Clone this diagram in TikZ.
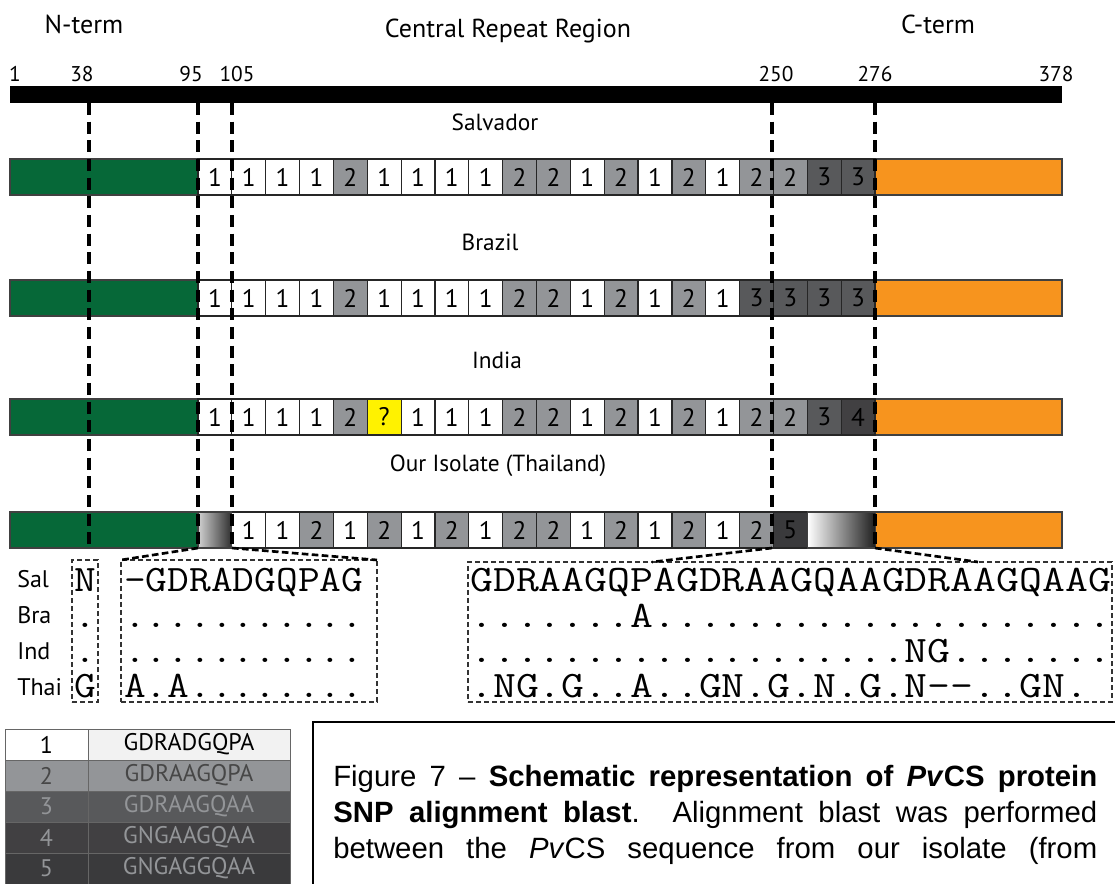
\documentclass[tikz,border=0pt]{standalone}
\usepackage{fontspec}
\usepackage{graphicx}
\setmainfont{PT Sans}
\newfontfamily\capfont{Liberation Sans}
\definecolor{cgreen}{HTML}{066838}
\definecolor{corange}{HTML}{F7941E}
\definecolor{cgrayA}{HTML}{939598}
\definecolor{cgrayB}{HTML}{58595B}
\definecolor{cgrayC}{HTML}{414042}
\definecolor{cgrayD}{HTML}{3A3A3C}
\definecolor{cyellow}{HTML}{FFF200}
\newcommand\alnR[1]{\scalebox{1.19}[1]{\fontsize{28}{30}\selectfont\ttfamily #1}}
\newcommand\alnL[1]{\scalebox{1.13}[1]{\fontsize{28}{30}\selectfont\ttfamily #1}}
\newcommand\dd{-\kern0pt-}
\newcommand\cellrow[4]{\foreach \st/\tx [count=\i from #3] in {#4}{\node[cell,\st] (#1\i) at ({198+\i*33.85},#2) {\tx};}}
\begin{document}
\begin{tikzpicture}[x=0.75pt,y=-0.75pt]
\tikzset{
 cell/.style={draw=black!85, line width=0.9pt, anchor=north west, minimum width=25.39pt, minimum height=27pt, inner sep=0pt, outer sep=0pt, font=\fontsize{19}{19}\selectfont},
 c1/.style={fill=white}, c2/.style={fill=cgrayA}, c3/.style={fill=cgrayB},
 c4/.style={fill=cgrayC}, c5/.style={fill=cgrayD}, cq/.style={fill=cyellow},
 endbox/.style={draw=black!75, line width=0.9pt, anchor=north west, minimum height=27pt, inner sep=0pt, outer sep=0pt},
 vdash/.style={line width=2.7pt, dash pattern=on 9pt off 5pt},
 zoomline/.style={line width=2pt, dash pattern=on 5pt off 2.5pt},
 albox/.style={draw=black!80, line width=1pt, dash pattern=on 4pt off 2pt, anchor=north west, inner sep=0pt, outer sep=0pt},
 ticklab/.style={font=\fontsize{16}{16}\selectfont},
 title/.style={font=\fontsize{19.5}{19.5}\selectfont},
 rowtitle/.style={font=\fontsize{17.5}{17.5}\selectfont},
 seqlab/.style={font=\fontsize{18}{18}\selectfont, anchor=base west, inner sep=0pt},
 alnt/.style={anchor=base west, inner sep=0pt},
 legcell/.style={anchor=north west, minimum height=23.25pt, inner sep=0pt, outer sep=0pt, draw=black!60, line width=0.7pt, font=\fontsize{18}{18}\selectfont},
 capline/.style={anchor=base west, inner sep=0pt, font=\capfont\fontsize{22}{26}\selectfont},
}
\useasboundingbox (0,0) rectangle (1115,884);

% titles
\node[title] (nterm) at (84,24) {N-term};
\node[title] (central) at (508,31) {Central Repeat Region};
\node[title] (cterm) at (938,24) {C-term};

% axis bar and tick labels
\node[fill=black, anchor=north west, minimum width=789pt, minimum height=12.75pt, inner sep=0pt, outer sep=0pt] (axis) at (10,86) {};
\foreach \lb/\xx in {1/15, 38/82, 95/191, 105/237, 250/776, 276/875, 378/1056}
  \node[ticklab] (lab\lb) at (\xx,74) {\lb};

% row titles
\node[rowtitle] (tsal) at (495,122) {Salvador};
\node[rowtitle] (tbra) at (490,242) {Brazil};
\node[rowtitle] (tind) at (497,360) {India};
\node[rowtitle] (ttha) at (498,466) {Our Isolate (Thailand)};

% terminal blocks
\foreach \p/\yy in {s/159, b/280, i/399, t/512}{
  \node[endbox, fill=cgreen, minimum width=141pt] (\p-green) at (10,\yy) {};
  \node[endbox, fill=corange, minimum width=140.25pt] (\p-orange) at (875,\yy) {};
}

% repeat cells
\cellrow{s-}{159}{0}{c1/1,c1/1,c1/1,c1/1,c2/2,c1/1,c1/1,c1/1,c1/1,c2/2,c2/2,c1/1,c2/2,c1/1,c2/2,c1/1,c2/2,c2/2,c3/3,c3/3}
\cellrow{b-}{280}{0}{c1/1,c1/1,c1/1,c1/1,c2/2,c1/1,c1/1,c1/1,c1/1,c2/2,c2/2,c1/1,c2/2,c1/1,c2/2,c1/1,c3/3,c3/3,c3/3,c3/3}
\cellrow{i-}{399}{0}{c1/1,c1/1,c1/1,c1/1,c2/2,cq/?,c1/1,c1/1,c1/1,c2/2,c2/2,c1/1,c2/2,c1/1,c2/2,c1/1,c2/2,c2/2,c3/3,c4/4}
\cellrow{t-}{512}{1}{c1/1,c1/1,c2/2,c1/1,c2/2,c1/1,c2/2,c1/1,c2/2,c2/2,c1/1,c2/2,c1/1,c2/2,c1/1,c2/2,c5/5}
\node[endbox, minimum width=25.39pt, left color=black!18, right color=black!82] (t-grad1) at (198,512) {};
\node[endbox, minimum width=50.78pt, left color=white, right color=black!88] (t-grad2) at (807.45,512) {};

% vertical dashed guide lines
\foreach \n/\xx in {38/89, 95/198, 105/232, 250/772, 276/875}{
  \coordinate (top\n) at (\xx,103);
  \coordinate (bot\n) at (\xx,548);
  \draw[vdash] (top\n) -- (bot\n);
}

% alignment boxes
\node[albox, minimum width=19.5pt, minimum height=106.5pt] (nbox) at (72,560) {};
\node[albox, minimum width=192pt, minimum height=106.5pt] (lbox) at (121,560) {};
\node[albox, minimum width=483pt, minimum height=105pt] (rbox) at (468,562) {};
\coordinate (rz1) at (652,562);
\coordinate (rz2) at (978,562);
\draw[zoomline] (bot95) -- (lbox.north west);
\draw[zoomline] (bot105) -- (lbox.north east);
\draw[zoomline] (bot250) -- (rz1);
\draw[zoomline] (bot276) -- (rz2);

% sequence labels
\node[seqlab] (qsal) at (17,587) {Sal};
\node[seqlab] (qbra) at (17,623) {Bra};
\node[seqlab] (qind) at (17,659) {Ind};
\node[seqlab] (qtha) at (17,695) {Thai};

% N box
\node[anchor=base, inner sep=0pt] (nsal) at (85,591) {\alnL{N}};
\node[anchor=base, inner sep=0pt] (nbra) at (85,627) {\alnL{.}};
\node[anchor=base, inner sep=0pt] (nind) at (85,662) {\alnL{.}};
\node[anchor=base, inner sep=0pt] (ntha) at (85,697) {\alnL{G}};

% left alignment
\node[alnt] (lsal) at (124,591) {\alnL{-GDRADGQPAG}};
\node[alnt] (lbra) at (124,627) {\alnL{...........}};
\node[alnt] (lind) at (124,662) {\alnL{...........}};
\node[alnt] (ltha) at (124,697) {\alnL{A.A........}};

% right alignment
\begin{scope}
\clip (rbox.north west) rectangle (rbox.south east);
\node[alnt] (rsal) at (470,591) {\alnR{GDRAAGQPAGDRAAGQAAGDRAAGQAAG}};
\node[alnt] (rbra) at (470,627) {\alnR{.......A....................}};
\node[alnt] (rind) at (470,662) {\alnR{...................NG.......}};
\node[alnt] (rtha) at (470,697) {\alnR{.NG.G..A..GN.G.N.G.N\dd..GN.}};
\end{scope}

% legend
\foreach \lv/\sq/\bg/\fg/\bgb [count=\k] in {1/GDRADGQPA/white/black/black!5, 2/GDRAAGQPA/cgrayA/black!72/cgrayA, 3/GDRAAGQAA/cgrayB/cgrayA/cgrayB, 4/GNGAAGQAA/cgrayC/cgrayA/cgrayC, 5/GNGAGGQAA/cgrayD/cgrayA/cgrayD}{
  \node[legcell, fill=\bg, text=\fg, minimum width=62.25pt] (leg\k n) at (5,{729+(\k-1)*31}) {\lv};
  \node[legcell, fill=\bgb, text=\fg, minimum width=151.5pt] (leg\k s) at (88,{729+(\k-1)*31}) {\sq};
}

% caption
\draw[line width=1.1pt] (313,884) -- (313,722) -- (1115,722);
\node[capline] (cap1) at (333,786) {\makebox[573pt][s]{Figure 7 – \textbf{Schematic representation of \textit{Pv}CS protein}}};
\node[capline] (cap2) at (333,822) {\makebox[573pt][s]{\textbf{SNP alignment blast}. Alignment blast was performed}};
\node[capline] (cap3) at (333,858) {\makebox[573pt][s]{between the \textit{Pv}CS sequence from our isolate (from}};
\end{tikzpicture}
\end{document}
